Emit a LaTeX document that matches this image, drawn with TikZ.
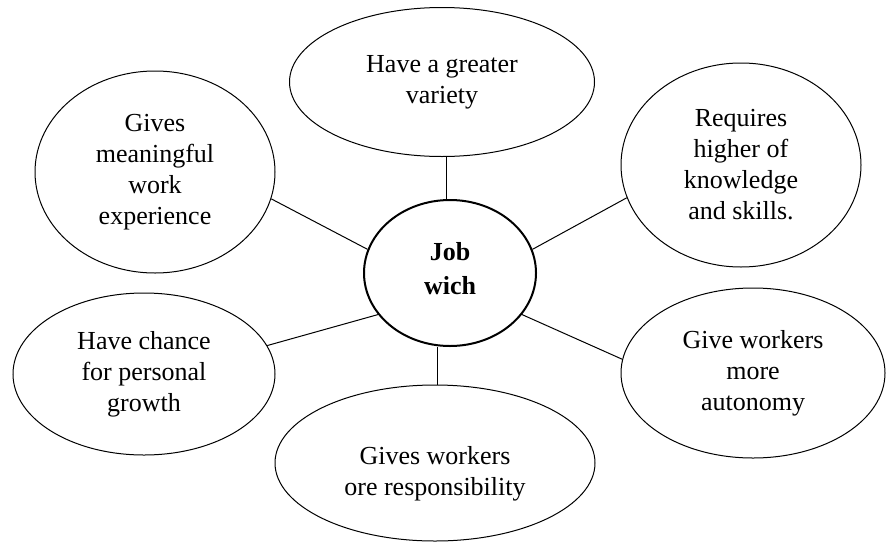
\documentclass[tikz,border=0pt]{standalone}
\usepackage{fontspec}
\setmainfont{Liberation Serif}
\usetikzlibrary{shapes.geometric}

\tikzstyle{bubble}=[ellipse,draw=black,line width=1pt,inner sep=0pt,align=center,font=\fontsize{26}{31}\selectfont]
\tikzstyle{hub}=[bubble,line width=2pt,font=\fontsize{26}{34}\selectfont\bfseries]
\tikzstyle{spoke}=[line width=1pt]

\begin{document}
\begin{tikzpicture}[x=1pt,y=-1pt]
	\useasboundingbox (0,0) rectangle (896,541);

	\node (J) at (450,273) [hub,minimum width=172pt,minimum height=146pt] {};
	\node (Jt) at ([yshift=4pt]J.center) [font=\fontsize{26}{34}\selectfont\bfseries,align=center] {Job\\wich};

		\node (V) at (442,82) [bubble,minimum width=305pt,minimum height=149pt] {Have a greater\\variety};
		\node (M) at (155,172) [bubble,minimum width=240pt,minimum height=202pt] {Gives\\meaningful\\work\\experience};
		\node (K) at (741,165) [bubble,minimum width=240pt,minimum height=204pt] {Requires\\higher of\\knowledge\\and skills.};
		\node (G) at (144,374) [bubble,minimum width=262pt,minimum height=162pt] {Have chance\\for personal\\growth};
		\node (A) at (753,373) [bubble,minimum width=264pt,minimum height=170pt] {Give workers\\more\\autonomy};
		\node (R) at (435,463) [bubble,minimum width=320pt,minimum height=156pt] {};
		\node (Rt) at ([yshift=-11pt]R.center) [font=\fontsize{26}{31}\selectfont,align=center] {Gives workers\\ore responsibility};

	\draw [spoke] (J.93) to (V.south -| J.93);
	\draw [spoke] (J.164) to (M.-13);
	\draw [spoke] (J.16) to (K.196);
	\draw [spoke] (J.210) to (G.13);
	\draw [spoke] (J.-90) ++(-13,0) coordinate (jb) to (R.north -| jb);
	\draw [spoke] (J.-30) to (A.174);

\end{tikzpicture}
\end{document}
